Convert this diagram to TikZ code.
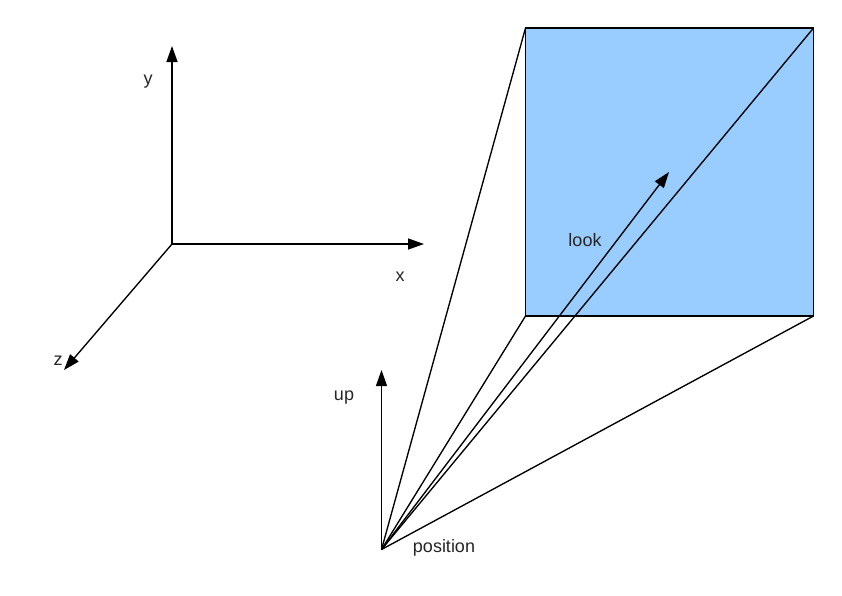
\documentclass[tikz,border=0pt]{standalone}
\usepackage{fontspec}
\setmainfont{Liberation Sans}
\usetikzlibrary{arrows.meta}
\definecolor{planeblue}{RGB}{153,204,255}
\tikzset{
	line/.style={line width=1.35pt},
	axis/.style={line, -{Triangle[length=16pt,width=11pt]}},
	lbl/.style={inner sep=0pt, font=\fontsize{18}{20}\selectfont, text=black!85}
}
\begin{document}
\begin{tikzpicture}[x=1pt,y=-1pt]
	\useasboundingbox (0,0) rectangle (842,595);
	
	% world axes
	\coordinate (O) at (172,244);
	\coordinate (X) at (424,244);
	\coordinate (Y) at (172,46);
	\coordinate (Z) at (64,370);
	\draw[axis] (O) -- (X);
	\draw[axis] (O) -- (Y);
	\draw[axis] (O) -- (Z);
	\node[lbl] (xlabel) at (400,277) {x};
	\node[lbl] (ylabel) at (148,82) {y};
	\node[lbl] (zlabel) at (58,361) {z};
	
	% view plane
	\coordinate (A) at (525.5,28);
	\coordinate (B) at (813.5,28);
	\coordinate (C) at (813.5,316);
	\coordinate (D) at (525.5,316);
	\draw[line, fill=planeblue] (A) -- (B) -- (C) -- (D) -- cycle;
	
	% camera
	\coordinate (P) at (381.5,549.5);
	\coordinate (U) at (381.5,370);
	\coordinate (L) at (669,172);
	\draw[line] (P) -- (A);
	\draw[line] (P) -- (B);
	\draw[line] (P) -- (C);
	\draw[line] (P) -- (D);
	\draw[axis] (P) -- (U);
	\draw[axis] (P) -- (L);
	\node[lbl] (uplabel) at (344,398) {up};
	\node[lbl] (looklabel) at (585,240) {look};
	\node[lbl] (poslabel) at (444,548) {position};
\end{tikzpicture}
\end{document}
